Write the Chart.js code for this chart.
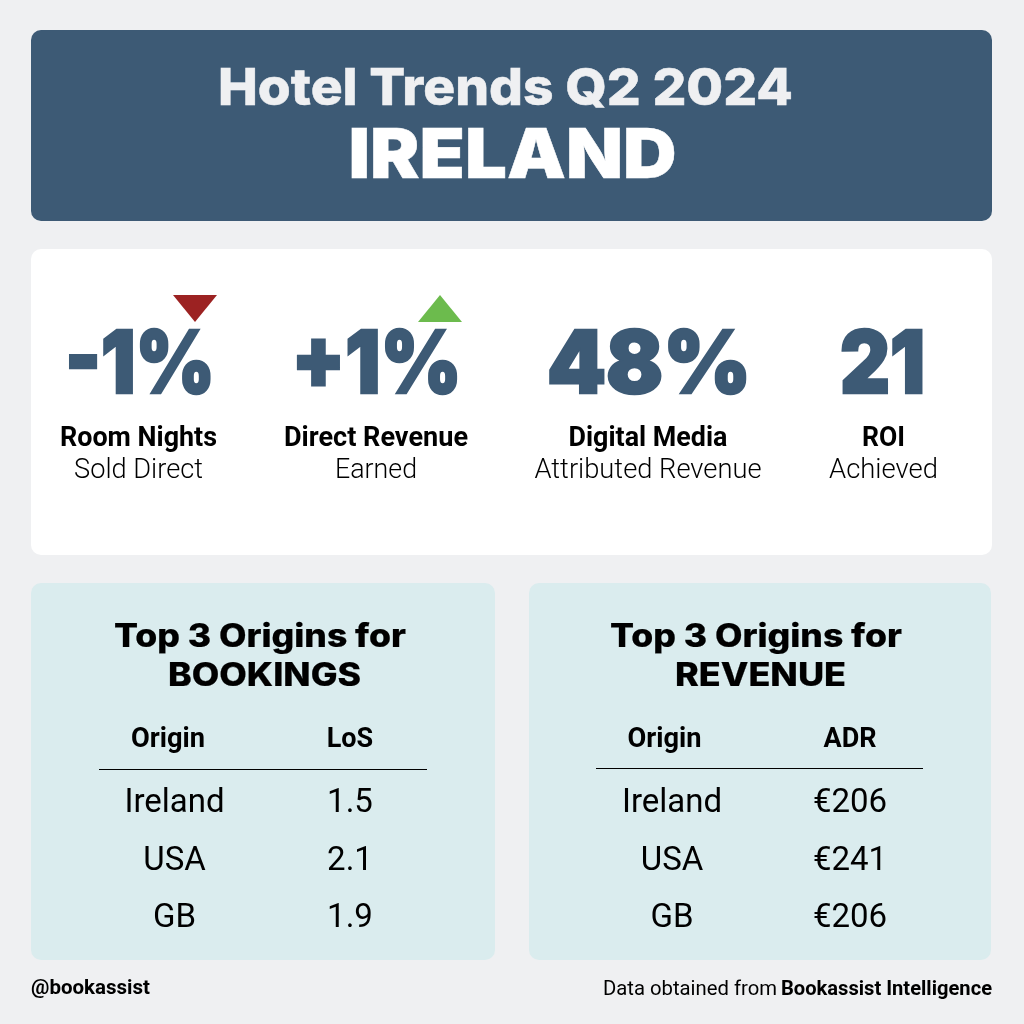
<!DOCTYPE html>
<html>
<head>
<meta charset="utf-8">
<title>Hotel Trends Q2 2024 Ireland</title>
<style>
  html, body { margin: 0; padding: 0; background: #eff0f2; }
  canvas { display: block; }
</style>
<script src="https://cdn.jsdelivr.net/npm/chart.js@4"></script>
</head>
<body>
<canvas id="board" width="1024" height="1024"></canvas>
<script>
'use strict';

const NAVY = '#3d5a75', TEAL = '#daecee', PAGE = '#eff0f2', INK = '#000000';
const HEAD = 'Inter, "Noto Sans", sans-serif';
const BODY = 'Roboto, sans-serif';

// ── Figures ──────────────────────────────────────────────────────────────
const kpis = [
    { value: '-1%', cx: 140, w: 150, title: 'Room Nights',    tw: 157, sub: 'Sold Direct',        sw: 129, tx: 138.5, trend: 'down', mark: [195, 308.5] },
    { value: '+1%', cx: 376.5, w: 170, title: 'Direct Revenue', tw: 184, sub: 'Earned',            sw: 82,  tx: 376,   trend: 'up',   mark: [440, 308.5] },
    { value: '48%', cx: 649, w: 204, title: 'Digital Media',  tw: 159, sub: 'Attributed Revenue', sw: 227, tx: 648 },
    { value: '21',  cx: 882.5, w: 85, title: 'ROI',            tw: 43,  sub: 'Achieved',           sw: 109, tx: 883.5 }
];

const tables = [
    { box: [31, 583, 464, 377], cx: 260, heading: 'BOOKINGS', hx: 264.5, hw: 193, col2: 'LoS', originX: 168, rowX: 174.5, col2X: 350, rule: [99, 427, 769],
      rows: [['Ireland', '1.5'], ['USA', '2.1'], ['GB', '1.9']] },
    { box: [529, 583, 462, 377], cx: 756, heading: 'REVENUE', hx: 760.5, hw: 171, col2: 'ADR', originX: 664.5, rowX: 672, col2X: 850, rule: [596, 923, 768],
      rows: [['Ireland', '€206'], ['USA', '€241'], ['GB', '€206']] }
];

function triangleSprite(color, down) {
    const c = document.createElement('canvas');
    c.width = 44; c.height = 27;
    const g = c.getContext('2d');
    g.fillStyle = color;
    g.beginPath();
    if (down) { g.moveTo(0, 0); g.lineTo(44, 0); g.lineTo(22, 27); }
    else      { g.moveTo(22, 0); g.lineTo(44, 27); g.lineTo(0, 27); }
    g.closePath();
    g.fill();
    return c;
}

// ── Board plugin: panels and text, placed through the chart scales ───────
const boardPlugin = {
    id: 'board',
    beforeDatasetsDraw(chart) {
        const ctx = chart.ctx, sx = chart.scales.x, sy = chart.scales.y;
        const X = v => sx.getPixelForValue(v), Y = v => sy.getPixelForValue(v);

        const panel = (x, y, w, h, color) => {
            ctx.fillStyle = color;
            ctx.beginPath();
            ctx.roundRect(X(x), Y(y), w, h, 10);
            ctx.fill();
        };
        // fit: stretch horizontally to the width measured on the reference
        // heavy: outline width, the installed faces are lighter than the original
        const text = (str, x, y, font, color, fit, align, heavy) => {
            ctx.save();
            ctx.font = font;
            ctx.fillStyle = color;
            ctx.textBaseline = 'alphabetic';
            ctx.textAlign = align || 'center';
            ctx.translate(X(x), Y(y));
            if (fit) ctx.scale(fit / ctx.measureText(str).width, 1);
            if (heavy) {
                ctx.strokeStyle = color;
                ctx.lineWidth = heavy;
                ctx.lineJoin = 'miter';
                ctx.strokeText(str, 0, 0);
            }
            ctx.fillText(str, 0, 0);
            ctx.restore();
        };

        ctx.save();
        ctx.fillStyle = PAGE;
        ctx.fillRect(0, 0, chart.width, chart.height);

        panel(31, 30, 961, 191, NAVY);
        panel(31, 249, 961, 306, '#ffffff');

        text('Hotel Trends Q2 2024', 505.5, 105, `800 51px ${HEAD}`, PAGE, 575, null, 0.5);
        text('IRELAND', 512.5, 178, `900 69px ${HEAD}`, '#ffffff', 328, null, 0.5);

        kpis.forEach(k => {
            text(k.value, k.cx, 392.5, `900 86px ${HEAD}`, NAVY, k.w, null, 2.5);
            text(k.title, k.tx, 446, `700 27px ${BODY}`, INK, k.tw);
            text(k.sub, k.tx, 478, `300 27px ${BODY}`, INK, k.sw);
        });

        tables.forEach(t => {
            panel(t.box[0], t.box[1], t.box[2], t.box[3], TEAL);
            text('Top 3 Origins for', t.cx, 647, `800 32px ${HEAD}`, INK, 292, null, 0.2);
            text(t.heading, t.hx, 686, `800 32px ${HEAD}`, INK, t.hw, null, 0.2);
            text('Origin', t.originX, 747, `700 27px ${BODY}`, INK, 74);
            text(t.col2, t.col2X, 747, `700 27px ${BODY}`, INK);
            ctx.strokeStyle = INK;
            ctx.lineWidth = 1;
            ctx.beginPath();
            ctx.moveTo(X(t.rule[0]), Y(t.rule[2]) + 0.5);
            ctx.lineTo(X(t.rule[1]), Y(t.rule[2]) + 0.5);
            ctx.stroke();
            t.rows.forEach((r, i) => {
                const y = [812, 870, 927][i];
                text(r[0], t.rowX, y, `400 33px ${BODY}`, INK);
                text(r[1], t.col2X, y, `400 33px ${BODY}`, INK);
            });
        });

        text('@bookassist', 31, 994, `700 20px ${BODY}`, INK, 119, 'left');
        text('Bookassist Intelligence', 992, 995, `700 20px ${BODY}`, INK, 211, 'right');
        text('Data obtained from', 777, 995, `400 20px ${BODY}`, INK, 174, 'right');
        ctx.restore();
    }
};

new Chart(document.getElementById('board').getContext('2d'), {
    type: 'scatter',
    data: {
        datasets: [
            { label: 'Down', data: kpis.filter(k => k.trend === 'down').map(k => ({ x: k.mark[0], y: k.mark[1] })), pointStyle: triangleSprite('#9c2222', true) },
            { label: 'Up',   data: kpis.filter(k => k.trend === 'up').map(k => ({ x: k.mark[0], y: k.mark[1] })),   pointStyle: triangleSprite('#6cbb4d', false) }
        ]
    },
    options: {
        responsive: false,
        animation: false,
        devicePixelRatio: 1,
        layout: { padding: 0, autoPadding: false },
        plugins: { legend: { display: false }, tooltip: { enabled: false } },
        scales: {
            x: { type: 'linear', display: false, min: 0, max: 1024 },
            y: { type: 'linear', display: false, min: 0, max: 1024, reverse: true }
        }
    },
    plugins: [boardPlugin]
});
</script>
</body>
</html>
